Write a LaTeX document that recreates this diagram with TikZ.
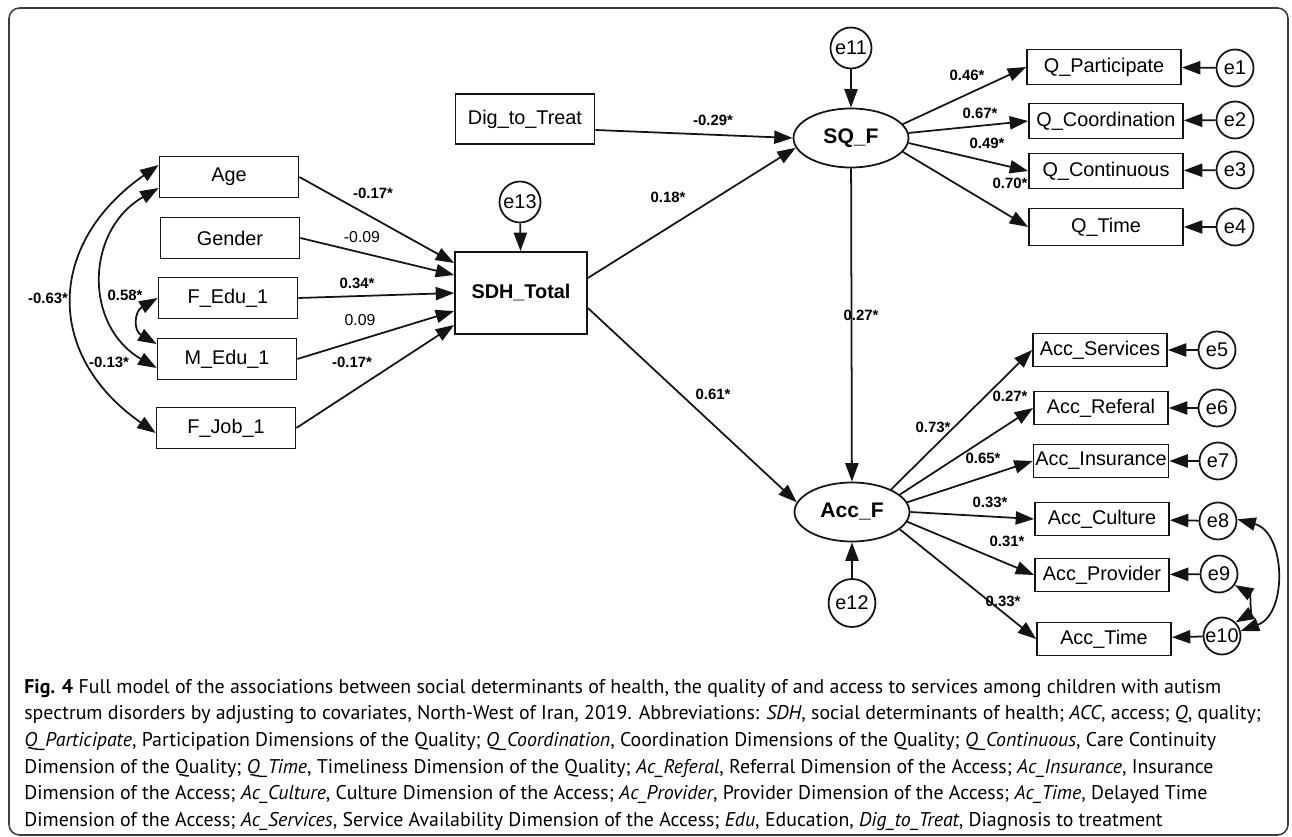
\documentclass[tikz,border=0pt]{standalone}
\usepackage{fontspec}
\setmainfont{Liberation Sans}
\newfontfamily\capfont{PT Sans}
\usepackage{tikz}
\usetikzlibrary{shapes.geometric, arrows.meta, calc}
\definecolor{mydark}{RGB}{20,20,20}
\definecolor{myframe}{RGB}{60,60,60}
\tikzset{
  varbox/.style={rectangle, draw=mydark, fill=white,
    minimum width=2.78cm, minimum height=0.82cm, inner sep=1pt,
    font=\fontsize{11.3}{13}\selectfont, line width=1pt},
  qbox/.style={varbox, minimum width=3.08cm, minimum height=0.70cm},
  accbox/.style={varbox, minimum width=2.68cm, minimum height=0.66cm},
  latent/.style={ellipse, draw=mydark, fill=white,
    minimum width=2.3cm, minimum height=1.18cm, inner sep=0pt,
    font=\bfseries\fontsize{12}{14}\selectfont, line width=1pt},
  errnode/.style={circle, draw=mydark, fill=white, minimum size=0.74cm,
    inner sep=0pt, font=\fontsize{11.3}{13}\selectfont, line width=1pt},
  coef/.style={font=\bfseries\fontsize{8.5}{10}\selectfont, inner sep=1pt},
  coefn/.style={font=\fontsize{9}{10}\selectfont, inner sep=1pt},
  arrow/.style={-{Triangle[length=10.5pt, width=7.5pt]}, line width=1pt, color=mydark},
  covarrow/.style={{Triangle[length=10.5pt, width=7.5pt]}-{Triangle[length=10.5pt, width=7.5pt]},
    line width=1pt, color=mydark}
}

\begin{document}
\begin{tikzpicture}[x=0.02cm, y=0.02cm]
  \useasboundingbox (0,0) rectangle (1292,-837);
  \draw[myframe, line width=0.9pt, rounded corners=6pt] (9,-8) rectangle (1288,-835);

  % exogenous variables
  \node[varbox] (age) at (229,-177) {Age};
  \node[varbox] (gender) at (230,-238) {Gender};
  \node[varbox] (fedu) at (228,-298) {F\_Edu\_1};
  \node[varbox] (medu) at (227,-359) {M\_Edu\_1};
  \node[varbox] (fjob) at (226,-428) {F\_Job\_1};
  \node[varbox, minimum height=1.0cm] (dig) at (525,-119) {Dig\_to\_Treat};

  % SDH and latent factors
  \node[varbox, minimum width=2.64cm, minimum height=1.64cm, font=\bfseries\fontsize{11.3}{13}\selectfont] (sdh) at (521,-293) {SDH\_Total};
  \node[errnode, minimum size=0.82cm] (e13) at (520,-202) {e13};
  \node[latent] (sqf) at (851,-138) {SQ\_F};
  \node[errnode, minimum size=0.82cm] (e11) at (851,-48) {e11};
  \node[latent] (accf) at (852,-512) {Acc\_F};
  \node[errnode, ellipse, minimum width=0.84cm, minimum height=0.96cm] (e12) at (852,-603) {e12};

  % quality indicators
  \node[qbox] (qpart) at (1104,-67) {Q\_Participate};
  \node[qbox] (qcoord) at (1106,-121) {Q\_Coordination};
  \node[qbox] (qcont) at (1106,-171) {Q\_Continuous};
  \node[qbox, minimum height=0.74cm] (qtime) at (1106,-227) {Q\_Time};
  \node[errnode] (e1) at (1235,-68) {e1};
  \node[errnode] (e2) at (1235,-120) {e2};
  \node[errnode] (e3) at (1235,-170) {e3};
  \node[errnode] (e4) at (1235,-227) {e4};

  % access indicators
  \node[accbox] (acs) at (1100,-350) {Acc\_Services};
  \node[accbox] (acr) at (1101,-408) {Acc\_Referal};
  \node[accbox] (aci) at (1101,-461) {Acc\_Insurance};
  \node[accbox] (acc) at (1102,-519) {Acc\_Culture};
  \node[accbox] (acp) at (1102,-575) {Acc\_Provider};
  \node[accbox] (act) at (1104,-639) {Acc\_Time};
  \node[errnode] (e5) at (1217,-350) {e5};
  \node[errnode] (e6) at (1217,-408) {e6};
  \node[errnode] (e7) at (1218,-461) {e7};
  \node[errnode] (e8) at (1218,-521) {e8};
  \node[errnode] (e9) at (1219,-574) {e9};
  \node[errnode] (e10) at (1222,-636) {e10};

  % paths into SDH_Total
  \draw[arrow] (age.east) -- ($(sdh.west)+(0,30)$);
  \draw[arrow] (gender.east) -- ($(sdh.west)+(0,18)$);
  \draw[arrow] (fedu.east) -- (sdh.west);
  \draw[arrow] (medu.east) -- ($(sdh.west)+(0,-18)$);
  \draw[arrow] (fjob.east) -- ($(sdh.west)+(0,-32)$);
  \draw[arrow] (e13) -- (sdh);

  % covariances
  \draw[covarrow] ($(age.west)+(0,12)$) to[out=215, in=145, looseness=1.3] ($(fjob.west)+(0,-5)$);
  \draw[covarrow] ($(age.west)+(0,-11)$) to[out=210, in=150, looseness=1.2] ($(medu.west)+(0,-9)$);
  \draw[covarrow] (fedu.west) to[out=210, in=150, looseness=1.5] ($(medu.west)+(0,15)$);
  \draw[covarrow] (e8.5) to[out=-15, in=20, looseness=1.15] (e10.15);
  \draw[covarrow] (e9.-35) to[out=-30, in=30, looseness=1.2] (e10.45);

  % structural paths
  \draw[arrow] ($(dig.east)+(0,-11)$) -- (sqf.west);
  \draw[arrow] ($(sdh.east)+(0,15)$) -- (sqf.190);
  \draw[arrow] ($(sdh.east)+(0,-15)$) -- (accf.170);
  \draw[arrow] (e11) -- (sqf);
  \draw[arrow] (sqf) -- (accf);
  \draw[arrow] (e12) -- (accf);

  % loadings
  \draw[arrow] (sqf.15) -- (qpart.west);
  \draw[arrow] (sqf.5) -- (qcoord.west);
  \draw[arrow] (sqf.-5) -- (qcont.west);
  \draw[arrow] (sqf.-15) -- (qtime.west);
  \draw[arrow] (accf.30) -- (acs.west);
  \draw[arrow] (accf.20) -- (acr.west);
  \draw[arrow] (accf.10) -- (aci.west);
  \draw[arrow] (accf.0) -- (acc.west);
  \draw[arrow] (accf.-10) -- (acp.west);
  \draw[arrow] (accf.-20) -- (act.west);
  \foreach \e/\v in {e1/qpart, e2/qcoord, e3/qcont, e4/qtime,
                     e5/acs, e6/acr, e7/aci, e8/acc, e9/acp, e10/act}
    \draw[arrow] (\e) -- (\v);

  % coefficients
  \node[coef] (c1) at (373,-193) {-0.17*};
  \node[coefn] (c2) at (362,-237) {-0.09};
  \node[coef] (c3) at (357,-283) {0.34*};
  \node[coefn] (c4) at (360,-320) {0.09};
  \node[coef] (c5) at (352,-362) {-0.17*};
  \node[coef] (c6) at (48,-298) {-0.63*};
  \node[coef] (c7) at (125,-295) {0.58*};
  \node[coef] (c8) at (109,-362) {-0.13*};
  \node[coef] (c9) at (713,-120) {-0.29*};
  \node[coef] (c10) at (668,-197) {0.18*};
  \node[coef] (c11) at (713,-394) {0.61*};
  \node[coef] (c12) at (861,-315) {0.27*};
  \node[coef] (c13) at (967,-75) {0.46*};
  \node[coef] (c14) at (980,-113) {0.67*};
  \node[coef] (c15) at (987,-143) {0.49*};
  \node[coef] (c16) at (1010,-183) {0.70*};
  \node[coef] (c17) at (933,-427) {0.73*};
  \node[coef] (c18) at (1010,-396) {0.27*};
  \node[coef] (c19) at (983,-458) {0.65*};
  \node[coef] (c20) at (990,-502) {0.33*};
  \node[coef] (c21) at (1007,-541) {0.31*};
  \node[coef] (c22) at (1003,-601) {0.33*};

  % caption
  \node[anchor=north west, align=left, inner sep=0pt,
    font=\capfont\fontsize{11.3}{15.1}\selectfont] (caption) at (24,-679) {%
    \textbf{Fig. 4} Full model of the associations between social determinants of health, the quality of and access to services among children with autism\\
    spectrum disorders by adjusting to covariates, North-West of Iran, 2019. Abbreviations: \textit{SDH}, social determinants of health; \textit{ACC}, access; \textit{Q}, quality;\\
    \textit{Q\_Participate}, Participation Dimensions of the Quality; \textit{Q\_Coordination}, Coordination Dimensions of the Quality; \textit{Q\_Continuous}, Care Continuity\\
    Dimension of the Quality; \textit{Q\_Time}, Timeliness Dimension of the Quality; \textit{Ac\_Referal}, Referral Dimension of the Access; \textit{Ac\_Insurance}, Insurance\\
    Dimension of the Access; \textit{Ac\_Culture}, Culture Dimension of the Access; \textit{Ac\_Provider}, Provider Dimension of the Access; \textit{Ac\_Time}, Delayed Time\\
    Dimension of the Access; \textit{Ac\_Services}, Service Availability Dimension of the Access; \textit{Edu}, Education, \textit{Dig\_to\_Treat}, Diagnosis to treatment};
\end{tikzpicture}
\end{document}
